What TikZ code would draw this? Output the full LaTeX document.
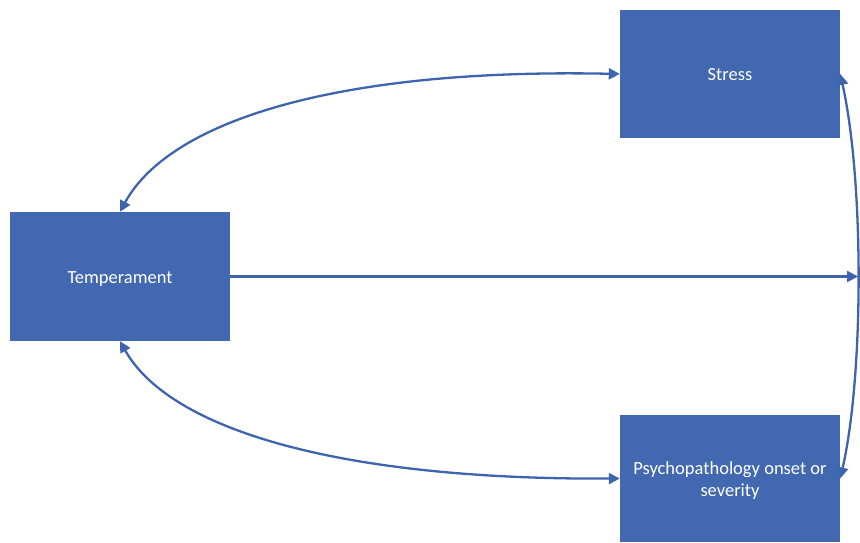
\documentclass[tikz,border=0pt]{standalone}
\usepackage{fontspec}
\setmainfont{Carlito}
\usetikzlibrary{arrows.meta}
\definecolor{boxblue}{HTML}{4168B0}
\definecolor{lineblue}{HTML}{3F64AE}
% lower a label without changing the size the node sees
\newcommand{\droplabel}[2]{\raisebox{-#1}[\height][\depth]{#2}}
\begin{document}
\begin{tikzpicture}[x=1pt,y=-1pt,
  block/.style={draw=none,fill=boxblue,minimum width=220pt,text=white,
    font=\fontsize{18.5}{22}\selectfont,align=center,inner sep=0pt},
  link/.style={draw=lineblue,line width=2.3pt,
    -{Triangle[length=11pt,width=11pt]}},
  twoway/.style={draw=lineblue,line width=2.3pt,
    {Triangle[length=11pt,width=11pt]}-{Triangle[length=11pt,width=11pt]}}]
\useasboundingbox (0,0) rectangle (860,542);
% the three factors
\node[block,minimum height=128pt] (stress) at (730,74) {\droplabel{1pt}{Stress}};
\node[block,minimum height=129pt] (temp) at (120,276.5) {\droplabel{3pt}{Temperament}};
\node[block,minimum height=127pt] (psy) at (730,478.5)
  {\droplabel{3pt}{\begin{tabular}{@{}c@{}}Psychopathology onset or\\ severity\end{tabular}}};
% reciprocal links
\draw[twoway] (stress.west) .. controls (340,68) and (170,120) .. (temp.north);
\draw[twoway] (temp.south) .. controls (170,430) and (340,480) .. (psy.west);
\draw[twoway] (stress.east) .. controls (864,180) and (864,375)
  .. coordinate[pos=0.5] (mid) (psy.east);
% direct effect onto the stress--psychopathology link
\draw[link] (temp.east) -- (temp.east -| mid);
\end{tikzpicture}
\end{document}
